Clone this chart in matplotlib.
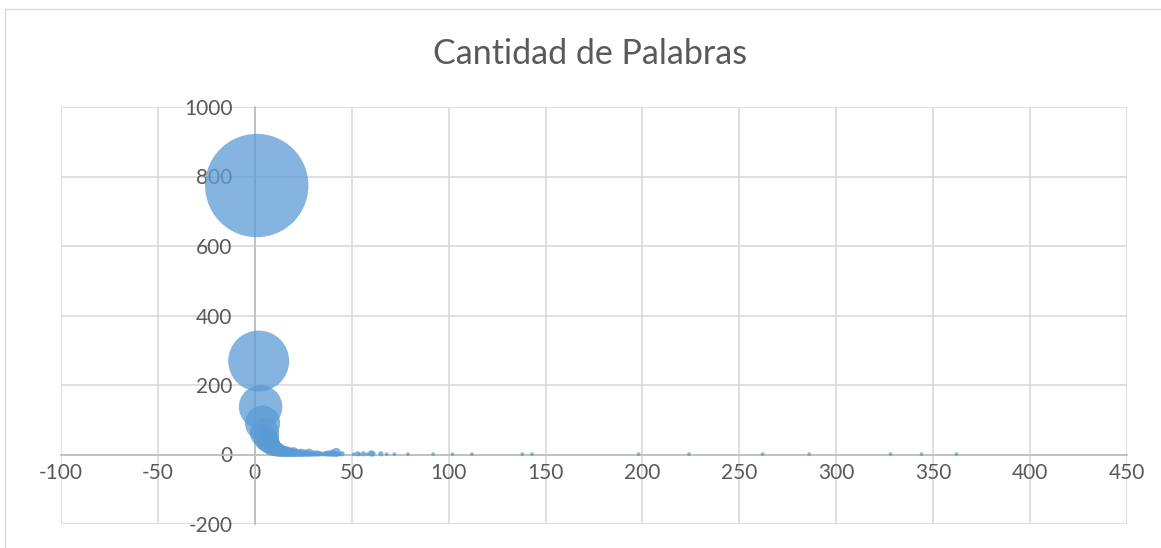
import matplotlib.pyplot as plt
from matplotlib.patches import Rectangle

# veces que aparece una palabra (x) y cuantas palabras aparecen esas veces (y)
frecuencia = [1, 2, 3, 4, 5, 6, 7, 8, 9, 10,
              11, 12, 13, 14, 15, 16, 17, 18, 19, 20,
              21, 22, 23, 24, 25, 26, 27, 28, 29, 30,
              31, 32, 33, 34, 35, 36, 37, 38, 39, 40,
              41, 42, 43, 44, 45,
              51, 53, 54, 56, 58, 60, 61, 65, 68, 72, 79, 92, 102, 112,
              138, 143, 198, 224, 262, 286, 328, 344, 362]
palabras = [774, 269, 137, 90, 62, 45, 36, 28, 22, 19,
            15, 14, 12, 10, 9, 8, 8, 6, 6, 7,
            5, 4, 4, 5, 3, 4, 3, 5, 2, 3,
            2, 3, 2, 2, 1, 2, 2, 3, 2, 4,
            2, 6, 2, 1, 2,
            1, 2, 1, 2, 1, 3, 2, 2, 1, 1, 1, 1, 1, 1,
            1, 1, 1, 1, 1, 1, 1, 1, 1]

xticks = [-100, -50, 0, 50, 100, 150, 200, 250, 300, 350, 400, 450]
yticks = [-200, 0, 200, 400, 600, 800, 1000]

plt.rcParams['font.family'] = ['Lato', 'DejaVu Sans']
plt.rcParams['axes.unicode_minus'] = False
gris = '#595959'

fig = plt.figure(figsize=(11.61, 5.48), dpi=100)
fig.patches.append(Rectangle((5 / 1161, -0.1), 1.2, 1 - 9 / 548 + 0.1,
                             transform=fig.transFigure, fill=False,
                             edgecolor='#D9D9D9', lw=1))
ax = fig.add_axes([61 / 1161, 24 / 548, 1066 / 1161, 417 / 548])

# area de la burbuja proporcional a la cantidad
tam = [7.15 * p for p in palabras]
ax.scatter(frecuencia, palabras, s=tam, color='#5B9BD5', alpha=0.75,
           edgecolors='none', zorder=3)

ax.set_xlim(-100, 450)
ax.set_ylim(-200, 1000)
ax.set_xticks(xticks)
ax.set_yticks(yticks)
ax.grid(True, color='#D9D9D9', lw=1.2)
ax.set_axisbelow(True)

for s in ['top', 'right']:
    ax.spines[s].set_visible(False)
ax.spines['left'].set_position(('data', 0))
ax.spines['bottom'].set_position(('data', 0))
ax.spines['left'].set_color('#BFBFBF')
ax.spines['bottom'].set_color('#BFBFBF')
ax.spines['left'].set_linewidth(1.3)
ax.spines['bottom'].set_linewidth(1.3)
ax.tick_params(axis='x', length=0, pad=6, labelsize=15, labelcolor=gris)
ax.tick_params(axis='y', length=0, pad=16, labelsize=15, labelcolor=gris)

fig.text(590 / 1161, 1 - 54 / 548, 'Cantidad de Palabras', ha='center',
         va='center', fontsize=24.5, color=gris)

plt.savefig('out.png', dpi=100)
